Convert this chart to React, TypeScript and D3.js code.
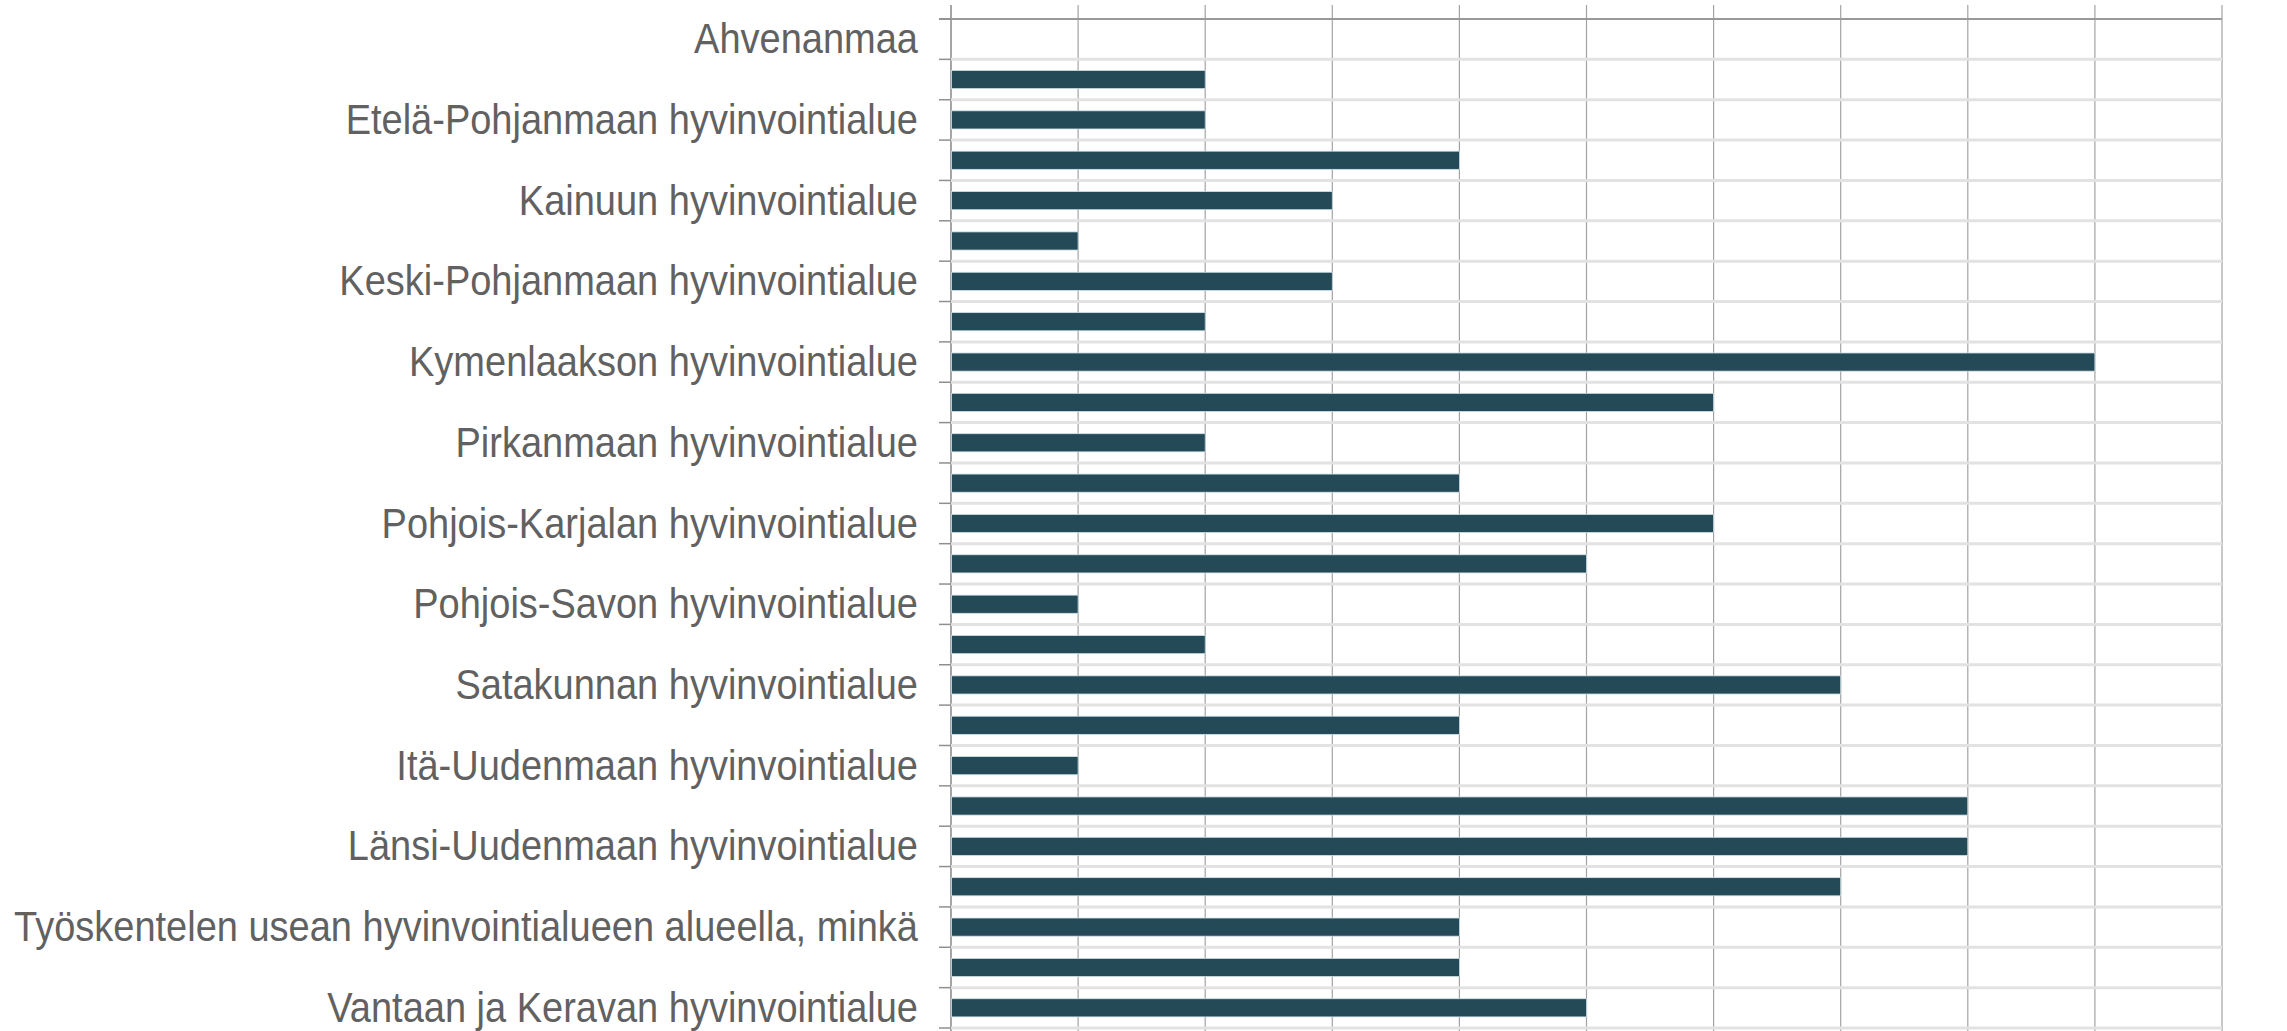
import React from "react";
import * as d3 from "d3";

const categories: string[] = [
  "Ahvenanmaa",
  "Etelä-Karjalan hyvinvointialue",
  "Etelä-Pohjanmaan hyvinvointialue",
  "Etelä-Savon hyvinvointialue",
  "Kainuun hyvinvointialue",
  "Kanta-Hämeen hyvinvointialue",
  "Keski-Pohjanmaan hyvinvointialue",
  "Keski-Suomen hyvinvointialue",
  "Kymenlaakson hyvinvointialue",
  "Lapin hyvinvointialue",
  "Pirkanmaan hyvinvointialue",
  "Pohjanmaan hyvinvointialue",
  "Pohjois-Karjalan hyvinvointialue",
  "Pohjois-Pohjanmaan hyvinvointialue",
  "Pohjois-Savon hyvinvointialue",
  "Päijät-Hämeen hyvinvointialue",
  "Satakunnan hyvinvointialue",
  "Varsinais-Suomen hyvinvointialue",
  "Itä-Uudenmaan hyvinvointialue",
  "Keski-Uudenmaan hyvinvointialue",
  "Länsi-Uudenmaan hyvinvointialue",
  "Helsingin kaupunki",
  "Työskentelen usean hyvinvointialueen alueella, minkä",
  "Vantaan ja Keravan hyvinvointialue (Helsinki)",
  "Vantaan ja Keravan hyvinvointialue",
];

const values: number[] = [0, 2, 2, 4, 3, 1, 3, 2, 9, 6, 2, 4, 6, 5, 1, 2, 7, 4, 1, 8, 8, 7, 4, 4, 5];

const xTicks: number[] = [0, 1, 2, 3, 4, 5, 6, 7, 8, 9, 10];

// labels shown only on every other category (axis label skipping)
const shownLabelIndexes: number[] = [0, 2, 4, 6, 8, 10, 12, 14, 16, 18, 20, 22, 24];
const shownLabels: string[] = [
  "Ahvenanmaa",
  "Etelä-Pohjanmaan hyvinvointialue",
  "Kainuun hyvinvointialue",
  "Keski-Pohjanmaan hyvinvointialue",
  "Kymenlaakson hyvinvointialue",
  "Pirkanmaan hyvinvointialue",
  "Pohjois-Karjalan hyvinvointialue",
  "Pohjois-Savon hyvinvointialue",
  "Satakunnan hyvinvointialue",
  "Itä-Uudenmaan hyvinvointialue",
  "Länsi-Uudenmaan hyvinvointialue",
  "Työskentelen usean hyvinvointialueen alueella, minkä",
  "Vantaan ja Keravan hyvinvointialue",
];

const W = 2287;
const H = 1031;
const left = 951;
const right = 2222;
const top = 19;
const bottom = 1028;

export default function App() {
  const x = d3.scaleLinear().domain([0, 10]).range([left, right]);
  const ids = categories.map((_, i) => String(i));
  const y = d3.scaleBand<string>().domain(ids).range([top, bottom]).padding(0);
  const bw = y.bandwidth();
  const barH = bw * 0.45;
  const boundaries = d3.range(categories.length + 1).map((i) => top + i * bw);

  return (
    <svg
      width={W}
      height={H}
      style={{ position: "absolute", left: 0, top: 0, background: "#fff" }}
      fontFamily="'Liberation Sans', Arial, sans-serif"
    >
      <rect x={0} y={0} width={W} height={H} fill="#fff" />
      {/* vertical grid lines */}
      {xTicks.map((t) => (
        <line
          key={"v" + t}
          x1={x(t)}
          x2={x(t)}
          y1={5}
          y2={H}
          stroke={t === 0 ? "#8f8f8f" : "#a3a3a3"}
          strokeWidth={t === 0 ? 1.6 : 1.2}
        />
      ))}
      {/* horizontal band separators */}
      {boundaries.map((b, i) =>
        i === 0 ? null : (
          <line
            key={"h" + i}
            x1={left}
            x2={right}
            y1={b}
            y2={b}
            stroke="#e2e2e2"
            strokeWidth={3}
          />
        )
      )}
      {/* top axis line */}
      <line x1={939} x2={right} y1={top} y2={top} stroke="#9a9a9a" strokeWidth={2} />
      {/* left ticks */}
      {boundaries.map((b, i) => (
        <line key={"t" + i} x1={939} x2={left} y1={b} y2={b} stroke="#8f8f8f" strokeWidth={1.5} />
      ))}
      {/* bars */}
      {values.map((v, i) =>
        v > 0 ? (
          <rect
            key={"b" + i}
            x={x(0) + 0.5}
            y={(y(String(i)) as number) + bw / 2 - barH / 2}
            width={x(v) - x(0) - 0.5}
            height={barH}
            fill="#244a58"
            stroke="#cfe1e8"
            strokeWidth={0.8}
          />
        ) : null
      )}
      {/* labels */}
      {shownLabelIndexes.map((idx, k) => (
        <text
          key={"l" + idx}
          transform={`translate(918, ${(y(String(idx)) as number) + bw / 2 + 14}) scale(1, 1.1)`}
          textAnchor="end"
          fontSize={38}
          fill="#616161"
        >
          {shownLabels[k]}
        </text>
      ))}
    </svg>
  );
}
